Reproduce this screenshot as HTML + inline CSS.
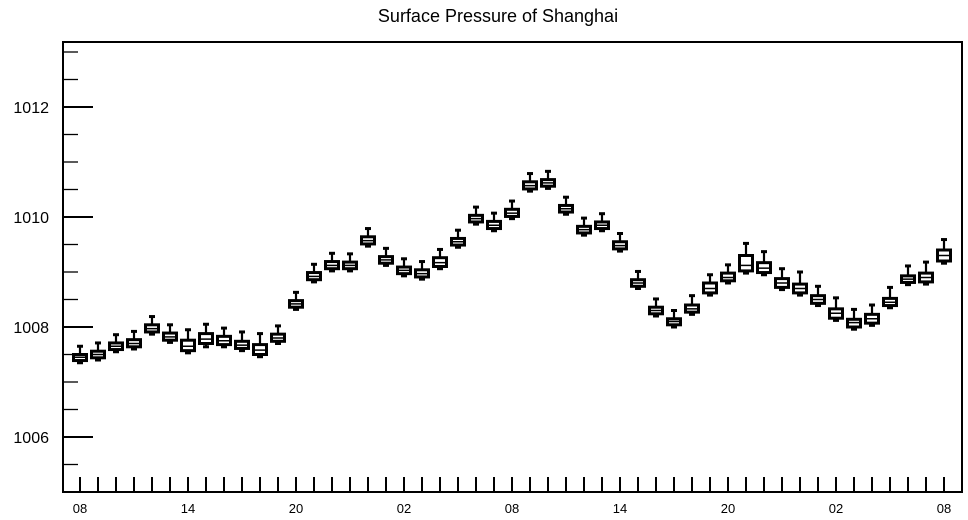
<!DOCTYPE html>
<html><head><meta charset="utf-8"><style>
body{margin:0;background:#fff;}
svg{display:block;font-family:"Liberation Sans",sans-serif;}
</style></head><body>
<svg id="chart" width="968" height="520" viewBox="0 0 968 520">
<text x="498" y="22" font-size="18" text-anchor="middle">Surface Pressure of Shanghai</text>
<g id="axes"></g><g id="boxes"></g>
</svg>
<script>
const hourLabels=["08","14","20","02","08","14","20","02","08"];
const yTicks=[1006,1008,1010,1012];
const med=[1007.45,1007.5,1007.65,1007.7,1007.97,1007.82,1007.65,1007.78,1007.75,1007.67,1007.58,1007.8,1008.42,1008.92,1009.12,1009.12,1009.57,1009.22,1009.03,1008.97,1009.17,1009.55,1009.97,1009.85,1010.07,1010.57,1010.62,1010.15,1009.77,1009.85,1009.48,1008.8,1008.3,1008.1,1008.33,1008.7,1008.9,1009.12,1009.07,1008.8,1008.7,1008.5,1008.25,1008.08,1008.15,1008.45,1008.87,1008.9,1009.3];
const q1=[1007.39,1007.44,1007.59,1007.64,1007.91,1007.76,1007.57,1007.70,1007.68,1007.61,1007.50,1007.74,1008.36,1008.86,1009.06,1009.06,1009.51,1009.16,1008.97,1008.91,1009.10,1009.49,1009.91,1009.79,1010.01,1010.51,1010.56,1010.09,1009.71,1009.79,1009.42,1008.74,1008.24,1008.04,1008.27,1008.62,1008.84,1009.02,1008.99,1008.72,1008.62,1008.43,1008.16,1008.00,1008.07,1008.39,1008.81,1008.82,1009.20];
const q3=[1007.50,1007.56,1007.71,1007.77,1008.04,1007.89,1007.76,1007.88,1007.83,1007.74,1007.68,1007.87,1008.48,1008.99,1009.19,1009.18,1009.64,1009.28,1009.09,1009.04,1009.26,1009.61,1010.03,1009.92,1010.14,1010.64,1010.68,1010.21,1009.83,1009.91,1009.55,1008.86,1008.36,1008.15,1008.40,1008.80,1008.98,1009.30,1009.17,1008.88,1008.78,1008.57,1008.33,1008.14,1008.23,1008.52,1008.93,1008.98,1009.40];
const lo=[1007.35,1007.40,1007.55,1007.60,1007.87,1007.72,1007.53,1007.64,1007.64,1007.57,1007.46,1007.70,1008.32,1008.82,1009.02,1009.02,1009.47,1009.12,1008.93,1008.87,1009.06,1009.45,1009.87,1009.75,1009.97,1010.47,1010.52,1010.05,1009.67,1009.75,1009.38,1008.70,1008.20,1008.00,1008.23,1008.58,1008.80,1008.98,1008.95,1008.68,1008.58,1008.39,1008.12,1007.96,1008.03,1008.35,1008.77,1008.78,1009.16];
const hi=[1007.65,1007.71,1007.86,1007.92,1008.19,1008.04,1007.95,1008.05,1007.98,1007.91,1007.88,1008.02,1008.63,1009.14,1009.34,1009.33,1009.79,1009.43,1009.24,1009.19,1009.41,1009.76,1010.18,1010.07,1010.29,1010.79,1010.83,1010.36,1009.98,1010.06,1009.70,1009.01,1008.51,1008.30,1008.57,1008.95,1009.13,1009.52,1009.37,1009.06,1009.00,1008.74,1008.53,1008.32,1008.40,1008.72,1009.11,1009.18,1009.59];

const NS="http://www.w3.org/2000/svg";
const L=63,R=962,T=42,B=492;
const y=v=>327-(v-1008)*55;
const x=i=>80+i*18;
function mk(tag,attrs,parent){const e=document.createElementNS(NS,tag);for(const k in attrs)e.setAttribute(k,attrs[k]);parent.appendChild(e);return e;}
const axes=document.getElementById('axes'),boxes=document.getElementById('boxes');
let e;
e=mk('rect',{x:L,y:T,width:R-L,height:B-T,fill:'none',stroke:'#000','stroke-width':2},axes);


for(let v=1005;v<=1013.2;v+=0.5){const py=y(v);if(py<T+3||py>B)continue;
 const major=yTicks.includes(v);
 e=mk('line',{x1:L,x2:L+(major?30:15),y1:py,y2:py,stroke:'#000','stroke-width':major?2:1.3},axes);
 
 }
yTicks.forEach(v=>{e=mk('text',{x:49,y:y(v)+6,'font-size':16,'text-anchor':'end'},axes);e.textContent=v;
 
 });
for(let i=0;i<med.length;i++){e=mk('line',{x1:x(i),x2:x(i),y1:B,y2:B-15,stroke:'#000','stroke-width':2},axes);
 
 }
hourLabels.forEach((s,j)=>{e=mk('text',{x:x(j*6),y:513,'font-size':13,'text-anchor':'middle'},axes);e.textContent=s;
 
 });
med.forEach((m,i)=>{
 const g=mk('g',{},boxes);
 
 
 const cx=x(i);
 mk('line',{x1:cx,x2:cx,y1:y(hi[i]),y2:y(q3[i]),stroke:'#000','stroke-width':2.2},g);
 mk('line',{x1:cx,x2:cx,y1:y(q1[i]),y2:y(lo[i]),stroke:'#000','stroke-width':2.2},g);
 mk('line',{x1:cx-3,x2:cx+3,y1:y(hi[i]),y2:y(hi[i]),stroke:'#000','stroke-width':3},g);
 mk('line',{x1:cx-3,x2:cx+3,y1:y(lo[i]),y2:y(lo[i]),stroke:'#000','stroke-width':3},g);
 mk('rect',{x:cx-6.5,y:y(q3[i]),width:13,height:Math.max(2,y(q1[i])-y(q3[i])),fill:'#fff',stroke:'#000','stroke-width':3},g);
 mk('line',{x1:cx-6.5,x2:cx+6.5,y1:y(m),y2:y(m),stroke:'#000','stroke-width':1.5},g);
});
</script>
</body></html>
